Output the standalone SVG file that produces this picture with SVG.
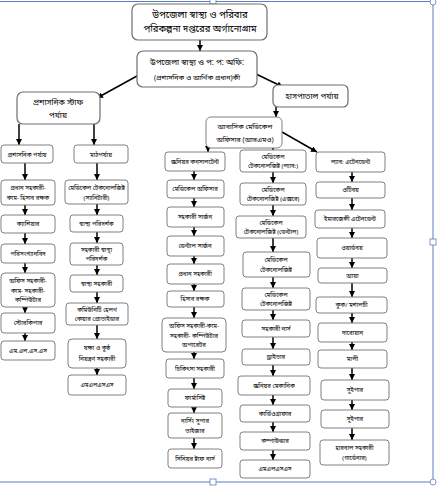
<svg xmlns="http://www.w3.org/2000/svg" width="448" height="492" viewBox="0 0 448 492">
<style>
.b{fill:#fff;stroke:#808080;stroke-width:1}
.bt{fill:#fff;stroke:#6e6e6e;stroke-width:1.2}
text{font-family:"Noto Sans Bengali","Noto Serif Bengali","Lohit Bengali","Mukti","FreeSans","Noto Sans",sans-serif;fill:#000;text-anchor:middle}
.s{font-size:6px}
.m{font-size:7px}
.l{font-size:8px}
.x{font-size:9.5px}
.c line{stroke:#000;stroke-width:1.5;marker-end:url(#ah)}
.f{fill:none;stroke:#5b7fbf;stroke-width:1}
.h{fill:#fff;stroke:#5b7fbf;stroke-width:0.8}
</style>
<defs>
<marker id="ah" markerUnits="userSpaceOnUse" markerWidth="6" markerHeight="6" refX="6" refY="3" orient="auto">
<path d="M0,0 L6,3 L0,6 z" fill="#000"/>
</marker>
</defs>
<rect width="448" height="492" fill="#fff"/>
<g id="frame">
<path class="f" d="M0,1.5 H433 V482 H0"/>
<rect class="h" x="210" y="-1" width="6" height="5"/>
<rect class="h" x="430" y="239" width="6" height="6"/>
<rect class="h" x="210" y="479" width="6" height="6"/>
<circle class="h" cx="433" cy="2" r="3"/>
<circle class="h" cx="433" cy="482" r="3"/>
</g>
<g class="c" id="connectors">
<line x1="200" y1="40" x2="200" y2="51"/>
<line x1="137" y1="76" x2="97" y2="98"/>
<line x1="256" y1="74" x2="283" y2="87"/>
<line x1="19" y1="124" x2="19" y2="145"/>
<line x1="94" y1="124" x2="94" y2="145"/>
<line x1="276" y1="107" x2="276" y2="117"/>
<line x1="208" y1="148" x2="208" y2="152"/>
<line x1="273" y1="148" x2="273" y2="150"/>
<line x1="282" y1="132" x2="317" y2="152"/>
<line x1="25" y1="163" x2="25" y2="180"/>
<line x1="25" y1="205" x2="25" y2="215"/>
<line x1="25" y1="233" x2="25" y2="244"/>
<line x1="25" y1="263" x2="25" y2="273"/>
<line x1="25" y1="307" x2="25" y2="313"/>
<line x1="25" y1="333" x2="25" y2="341"/>
<line x1="97" y1="163" x2="97" y2="180"/>
<line x1="97" y1="204" x2="97" y2="215"/>
<line x1="97" y1="232" x2="97" y2="243"/>
<line x1="97" y1="265" x2="97" y2="275"/>
<line x1="97" y1="292" x2="97" y2="303"/>
<line x1="97" y1="325" x2="97" y2="339"/>
<line x1="97" y1="368" x2="97" y2="375"/>
<line x1="194" y1="171" x2="194" y2="180"/>
<line x1="194" y1="198" x2="194" y2="207"/>
<line x1="194" y1="227" x2="194" y2="236"/>
<line x1="194" y1="256" x2="194" y2="264"/>
<line x1="194" y1="284" x2="194" y2="291"/>
<line x1="194" y1="307" x2="194" y2="318"/>
<line x1="194" y1="352" x2="194" y2="359"/>
<line x1="194" y1="378" x2="194" y2="389"/>
<line x1="194" y1="407" x2="194" y2="413"/>
<line x1="194" y1="438" x2="194" y2="449"/>
<line x1="273" y1="172" x2="273" y2="183"/>
<line x1="273" y1="205" x2="273" y2="216"/>
<line x1="273" y1="238" x2="273" y2="252"/>
<line x1="273" y1="277" x2="273" y2="288"/>
<line x1="273" y1="310" x2="273" y2="320"/>
<line x1="273" y1="337" x2="273" y2="349"/>
<line x1="273" y1="365" x2="273" y2="376"/>
<line x1="273" y1="395" x2="273" y2="405"/>
<line x1="273" y1="422" x2="273" y2="432"/>
<line x1="273" y1="450" x2="273" y2="460"/>
<line x1="352" y1="172" x2="352" y2="182"/>
<line x1="352" y1="198" x2="352" y2="210"/>
<line x1="352" y1="228" x2="352" y2="238"/>
<line x1="352" y1="258" x2="352" y2="268"/>
<line x1="352" y1="283" x2="352" y2="297"/>
<line x1="352" y1="313" x2="352" y2="323"/>
<line x1="352" y1="342" x2="352" y2="350"/>
<line x1="352" y1="368" x2="352" y2="380"/>
<line x1="352" y1="400" x2="352" y2="410"/>
<line x1="352" y1="428" x2="352" y2="440"/>
</g>
<g id="n-top"><rect class="bt" x="132" y="4" width="135" height="36" rx="6"/><text class="x" x="200" y="18">উপজেলা স্বাস্থ্য ও পরিবার</text><text class="x" x="200" y="32">পরিকল্পনা দপ্তরের অর্গানোগ্রাম</text></g>
<g id="n-uhfpo"><rect class="bt" x="137" y="51" width="120" height="36" rx="6"/><text class="l" x="197" y="65">উপজেলা স্বাস্থ্য ও প: প: অফি:</text><text class="m" x="197" y="80">(প্রশাসনিক ও আর্থিক প্রধান)কী</text></g>
<g id="n-staff"><rect class="bt" x="17" y="92" width="83" height="32" rx="6"/><text class="l" x="58" y="105">প্রশাসনিক স্টাফ</text><text class="l" x="58" y="118">পর্যায়</text></g>
<g id="n-hosp"><rect class="bt" x="273" y="85" width="75" height="22" rx="5"/><text class="l" x="312" y="99">হাসপাতাল পর্যায়</text></g>
<g id="n-rmo"><rect class="b" x="206" y="117" width="76" height="31" rx="5"/><text class="m" x="245" y="129">আবাসিক মেডিকেল</text><text class="m" x="245" y="142">অফিসার (আরএমও)</text></g>
<g id="n-adminhead"><rect class="b" x="1" y="145" width="52" height="18" rx="3"/><text class="s" x="27" y="156.5">প্রশাসনিক পর্যায়</text></g>
<g id="n-fieldhead"><rect class="b" x="74" y="145" width="54" height="18" rx="3"/><text class="s" x="101" y="156.5">মাঠপর্যায়</text></g>
<g id="n-a1"><rect class="b" x="1" y="180" width="54" height="25" rx="3"/><text class="s" x="28" y="190">প্রধান সহকারী-</text><text class="s" x="28" y="200">কাম- হিসাব রক্ষক</text></g>
<g id="n-a2"><rect class="b" x="1" y="215" width="54" height="18" rx="3"/><text class="s" x="28" y="226">ক্যাশিয়ার</text></g>
<g id="n-a3"><rect class="b" x="1" y="244" width="54" height="19" rx="3"/><text class="s" x="28" y="255.5">পরিসংখ্যানবিদ</text></g>
<g id="n-a4"><rect class="b" x="1" y="273" width="54" height="34" rx="4"/><text class="s" x="28" y="283">অফিস সহকারী-</text><text class="s" x="28" y="292.5">কাম- সহকারী-</text><text class="s" x="28" y="302">কম্পিউটার</text></g>
<g id="n-a5"><rect class="b" x="1" y="313" width="54" height="20" rx="3"/><text class="s" x="28" y="325">স্টোরকিপার</text></g>
<g id="n-a6"><rect class="b" x="1" y="341" width="54" height="19" rx="3"/><text class="s" x="28" y="352.5">এম.এল.এস.এস</text></g>
<g id="n-f1"><rect class="b" x="65" y="180" width="63" height="24" rx="3"/><text class="s" x="96.5" y="190">মেডিকেল টেকনোলজিষ্ট</text><text class="s" x="96.5" y="199.5">(স্যানিটারী)</text></g>
<g id="n-f2"><rect class="b" x="70" y="215" width="53" height="17" rx="3"/><text class="s" x="96.5" y="225.5">স্বাস্থ্য পরিদর্শক</text></g>
<g id="n-f3"><rect class="b" x="70" y="243" width="53" height="22" rx="3"/><text class="s" x="96.5" y="252">সহকারী স্বাস্থ্য</text><text class="s" x="96.5" y="261">পরিদর্শক</text></g>
<g id="n-f4"><rect class="b" x="70" y="275" width="53" height="17" rx="3"/><text class="s" x="96.5" y="285.5">স্বাস্থ্য সহকারী</text></g>
<g id="n-f5"><rect class="b" x="66" y="303" width="62" height="22" rx="3"/><text class="s" x="97" y="312">কমিউনিটি হেলথ</text><text class="s" x="97" y="321">কেয়ার প্রোভাইডার</text></g>
<g id="n-f6"><rect class="b" x="68" y="339" width="58" height="29" rx="4"/><text class="s" x="97" y="350">যক্ষা ও কুষ্ঠ</text><text class="s" x="97" y="361">নিয়ন্ত্রণ সহকারী</text></g>
<g id="n-f7"><rect class="b" x="68" y="375" width="58" height="20" rx="3"/><text class="s" x="97" y="387">এমএলএসএস</text></g>
<g id="n-c1"><rect class="b" x="165" y="152" width="60" height="19" rx="3"/><text class="s" x="195" y="163.5">জুনিয়র কনসালটেন্ট</text></g>
<g id="n-c2"><rect class="b" x="167" y="180" width="57" height="18" rx="3"/><text class="s" x="195" y="191">মেডিকেল অফিসার</text></g>
<g id="n-c3"><rect class="b" x="167" y="207" width="57" height="20" rx="3"/><text class="s" x="195" y="219">সহকারী সার্জন</text></g>
<g id="n-c4"><rect class="b" x="167" y="236" width="57" height="20" rx="3"/><text class="s" x="195" y="248">ডেন্টাল সার্জন</text></g>
<g id="n-c5"><rect class="b" x="167" y="264" width="57" height="20" rx="3"/><text class="s" x="195" y="276">প্রধান সহকারী</text></g>
<g id="n-c6"><rect class="b" x="167" y="291" width="57" height="16" rx="3"/><text class="s" x="195" y="301">হিসাব রক্ষক</text></g>
<g id="n-c7"><rect class="b" x="162" y="318" width="64" height="34" rx="4"/><text class="s" x="194" y="328">অফিস সহকারী-কাম-</text><text class="s" x="194" y="337.5">সহকারী- কম্পিউটার</text><text class="s" x="194" y="347">অপারেটর</text></g>
<g id="n-c8"><rect class="b" x="166" y="359" width="58" height="19" rx="3"/><text class="s" x="195" y="370.5">চিকিৎসা সহকারী</text></g>
<g id="n-c9"><rect class="b" x="168" y="389" width="54" height="18" rx="3"/><text class="s" x="195" y="400">ফার্মাসিষ্ট</text></g>
<g id="n-c10"><rect class="b" x="168" y="413" width="54" height="25" rx="3"/><text class="s" x="195" y="423">নার্সিং সুপার</text><text class="s" x="195" y="433">ভাইজার</text></g>
<g id="n-c11"><rect class="b" x="168" y="449" width="54" height="19" rx="3"/><text class="s" x="195" y="460.5">সিনিয়র ষ্টাফ নার্স</text></g>
<g id="n-d1"><rect class="b" x="240" y="150" width="66" height="22" rx="3"/><text class="s" x="273" y="159">মেডিকেল</text><text class="s" x="273" y="168">টেকনোলজিষ্ট (ল্যাব:)</text></g>
<g id="n-d2"><rect class="b" x="240" y="183" width="66" height="22" rx="3"/><text class="s" x="273" y="192">মেডিকেল</text><text class="s" x="273" y="201">টেকনোলজিষ্ট (এক্সরে)</text></g>
<g id="n-d3"><rect class="b" x="236" y="216" width="70" height="22" rx="3"/><text class="s" x="271" y="225">মেডিকেল</text><text class="s" x="271" y="234">টেকনোলজিষ্ট (ডেন্টাল)</text></g>
<g id="n-d4"><rect class="b" x="243" y="252" width="67" height="25" rx="3"/><text class="s" x="276" y="262">মেডিকেল</text><text class="s" x="276" y="271.5">টেকনোলজিষ্ট</text></g>
<g id="n-d5"><rect class="b" x="242" y="288" width="68" height="22" rx="3"/><text class="s" x="276" y="297">মেডিকেল</text><text class="s" x="276" y="306">টেকনোলজিষ্ট</text></g>
<g id="n-d6"><rect class="b" x="242" y="320" width="68" height="17" rx="3"/><text class="s" x="276" y="330.5">সহকারী নার্স</text></g>
<g id="n-d7"><rect class="b" x="242" y="349" width="68" height="16" rx="3"/><text class="s" x="276" y="359">ড্রাইভার</text></g>
<g id="n-d8"><rect class="b" x="238" y="376" width="72" height="19" rx="3"/><text class="s" x="274" y="387.5">জুনিয়র মেকানিক</text></g>
<g id="n-d9"><rect class="b" x="240" y="405" width="70" height="17" rx="3"/><text class="s" x="275" y="415.5">কার্ডিওগ্রাফার</text></g>
<g id="n-d10"><rect class="b" x="240" y="432" width="70" height="18" rx="3"/><text class="s" x="275" y="443">কম্পাউন্ডার</text></g>
<g id="n-d11"><rect class="b" x="240" y="460" width="70" height="18" rx="3"/><text class="s" x="275" y="471">এমএলএসএস</text></g>
<g id="n-e1"><rect class="b" x="316" y="152" width="69" height="20" rx="3"/><text class="s" x="350.5" y="164">ল্যাব: এটেনডেন্ট</text></g>
<g id="n-e2"><rect class="b" x="316" y="182" width="69" height="16" rx="3"/><text class="s" x="350.5" y="192">ওটিবয়</text></g>
<g id="n-e3"><rect class="b" x="315" y="210" width="70" height="18" rx="3"/><text class="s" x="350" y="221">ইমারজেন্সী এটেনডেন্ট</text></g>
<g id="n-e4"><rect class="b" x="317" y="238" width="70" height="20" rx="3"/><text class="s" x="352" y="250">ওয়ার্ডবয়</text></g>
<g id="n-e5"><rect class="b" x="318" y="268" width="69" height="15" rx="3"/><text class="s" x="352.5" y="277.5">আয়া</text></g>
<g id="n-e6"><rect class="b" x="316" y="297" width="71" height="16" rx="3"/><text class="s" x="351.5" y="307">কুক/ মশালচী</text></g>
<g id="n-e7"><rect class="b" x="318" y="323" width="69" height="19" rx="3"/><text class="s" x="352.5" y="334.5">দারোয়ান</text></g>
<g id="n-e8"><rect class="b" x="318" y="350" width="69" height="18" rx="3"/><text class="s" x="352.5" y="361">মালী</text></g>
<g id="n-e9"><rect class="b" x="321" y="380" width="68" height="20" rx="3"/><text class="s" x="355" y="392">সুইপার</text></g>
<g id="n-e10"><rect class="b" x="321" y="410" width="68" height="18" rx="3"/><text class="s" x="355" y="421">সুইপার</text></g>
<g id="n-e11"><rect class="b" x="320" y="440" width="69" height="25" rx="3"/><text class="s" x="354.5" y="450">হারবাল সহকারী</text><text class="s" x="354.5" y="460">(গার্ডেনার)</text></g>
</svg>
